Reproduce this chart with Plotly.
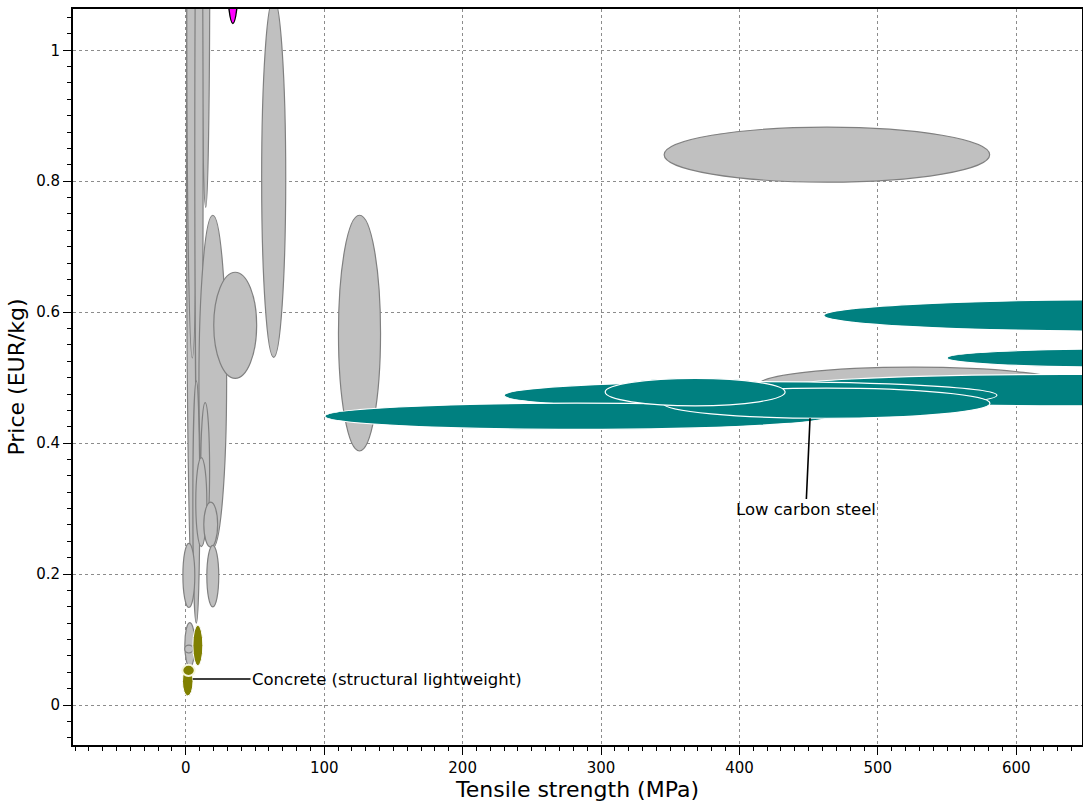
import plotly.graph_objects as go

# ---- data (tensile strength MPa, price EUR/kg): centre and half-extents ----
gray_cx = [5.0, 4.7, 14.4, 9.5, 7.6, 19.5, 14.0, 11.2, 18.0, 2.2, 19.5, 2.9, 2.2, 35.7, 63.5, 125.5, 463.2, 526.0]
gray_cy = [0.835, 1.065, 1.13, 0.85, 0.31, 0.494, 0.359, 0.310, 0.2756, 0.198, 0.197, 0.092, 0.0855, 0.580, 0.805, 0.568, 0.8405, 0.489]
gray_hw = [4.5, 4.0, 2.9, 3.0, 2.5, 10.0, 3.2, 4.0, 5.0, 4.3, 4.3, 3.6, 3.0, 15.5, 8.7, 15.2, 117.6, 112.0]
gray_hh = [0.665, 0.535, 0.37, 0.55, 0.185, 0.254, 0.103, 0.068, 0.0344, 0.049, 0.047, 0.034, 0.006, 0.081, 0.274, 0.180, 0.042, 0.027]

teal_cx = [634.0, 408.0, 282.5, 463.0, 368.0, 680.0, 675.0]
teal_cy = [0.481, 0.473, 0.441, 0.461, 0.478, 0.595, 0.530]
teal_hw = [216.0, 178.0, 182.0, 118.0, 65.0, 219.0, 125.0]
teal_hh = [0.024, 0.021, 0.020, 0.023, 0.021, 0.024, 0.014]

olive_cx = [8.7, 1.4]
olive_cy = [0.091, 0.036]
olive_hw = [3.6, 3.8]
olive_hh = [0.031, 0.022]

highlight_cx = [2.0]
highlight_cy = [0.0530]
highlight_hw = [4.5]
highlight_hh = [0.0085]

magenta_cx = [34.0]
magenta_cy = [1.2]
magenta_hw = [5.5]
magenta_hh = [0.159]

labels = ["Low carbon steel", "Concrete (structural lightweight)"]
label_tip_x = [451.0, 5.0]
label_tip_y = [0.438, 0.0397]
label_text_x = [448.0, 145.4]
label_text_y = [0.298, 0.0397]

x_range = [-81.5, 647.5]
y_range = [-0.061, 1.063]

fig = go.Figure()
fig.add_trace(go.Scatter(x=[None], y=[None], mode="markers", showlegend=False))

shapes = []


def add_group(cx, cy, hw, hh, fill, line, lw):
    for a, b, w, h in zip(cx, cy, hw, hh):
        shapes.append(dict(type="circle", xref="x", yref="y",
                           x0=a - w, x1=a + w, y0=b - h, y1=b + h,
                           fillcolor=fill, line=dict(color=line, width=lw),
                           layer="above"))


add_group(gray_cx, gray_cy, gray_hw, gray_hh, "#c0c0c0", "#808080", 1.2)
add_group(teal_cx, teal_cy, teal_hw, teal_hh, "#008080", "#ffffff", 1.2)
add_group(olive_cx, olive_cy, olive_hw, olive_hh, "#808000", "#ffffff", 1.0)
add_group(highlight_cx, highlight_cy, highlight_hw, highlight_hh, "#808000", "#f5f5dc", 2.0)
add_group(magenta_cx, magenta_cy, magenta_hw, magenta_hh, "#ff00ff", "#000000", 1.5)

annotations = []
for t, tx, ty, ax, ay in zip(labels, label_tip_x, label_tip_y, label_text_x, label_text_y):
    annotations.append(dict(text=t, x=tx, y=ty, xref="x", yref="y",
                            ax=ax, ay=ay, axref="x", ayref="y",
                            showarrow=True, arrowhead=0, arrowwidth=1.6,
                            arrowcolor="#000000",
                            font=dict(family="DejaVu Sans", size=16.5, color="#000000")))

axis_common = dict(showline=True, linecolor="#000000", linewidth=2, mirror=True,
                   ticks="outside", ticklen=8, tickwidth=1.2, tickcolor="#000000",
                   showgrid=True, gridcolor="#8c8c8c", griddash="dot", gridwidth=1,
                   zeroline=False,
                   tickfont=dict(family="DejaVu Sans", size=15, color="#000000"))

fig.update_layout(
    width=1083, height=805,
    margin=dict(l=73, r=1, t=9, b=60),
    paper_bgcolor="#ffffff", plot_bgcolor="#ffffff",
    shapes=shapes, annotations=annotations,
    xaxis=dict(range=x_range, dtick=100, tick0=0,
               minor=dict(dtick=10, ticks="outside", ticklen=4, tickcolor="#000000", showgrid=False),
               title=dict(text="Tensile strength (MPa)", standoff=4,
                          font=dict(family="DejaVu Sans", size=22, color="#000000")),
               automargin=False, **axis_common),
    yaxis=dict(range=y_range, dtick=0.2, tick0=0,
               minor=dict(dtick=0.025, ticks="outside", ticklen=4, tickcolor="#000000", showgrid=False),
               title=dict(text="Price (EUR/kg)", standoff=5,
                          font=dict(family="DejaVu Sans", size=22, color="#000000")),
               automargin=False, **axis_common),
)

fig.write_html("out.html",
               config={"displayModeBar": False},
               post_script="document.body.style.margin='0';document.body.style.overflow='hidden';")
